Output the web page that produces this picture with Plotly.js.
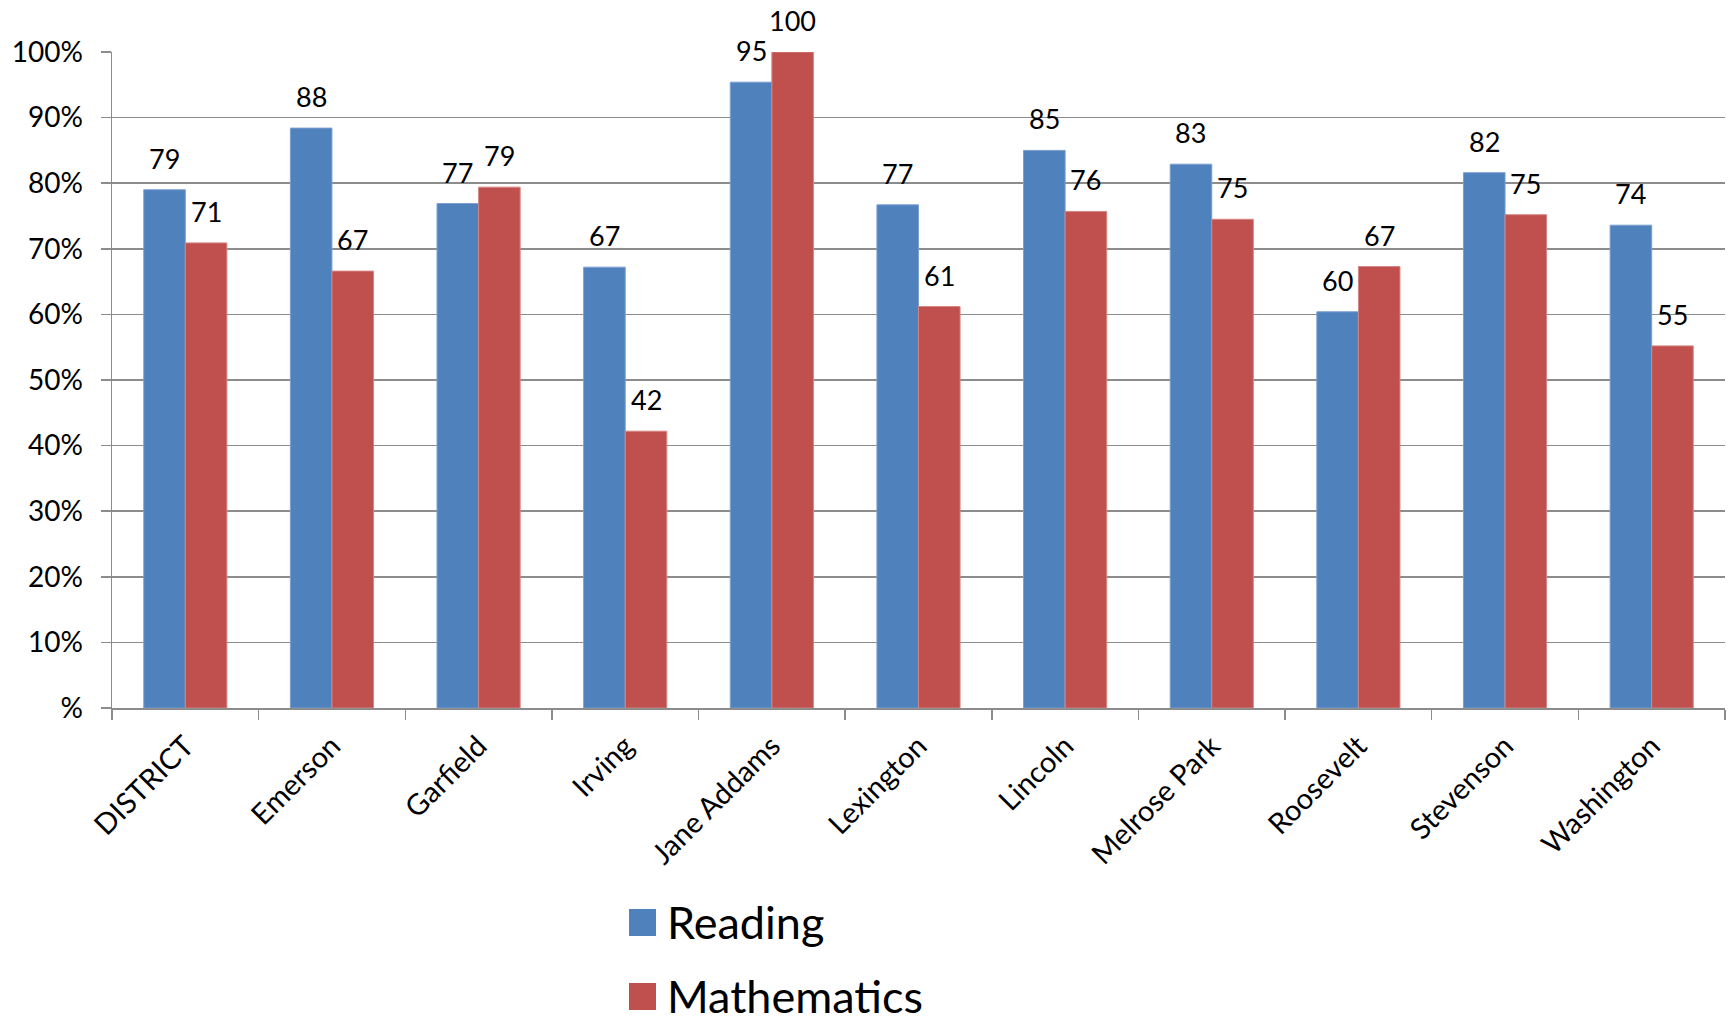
<!DOCTYPE html>
<html>
<head>
<meta charset="utf-8">
<script src="https://cdn.plot.ly/plotly-3.0.1.min.js"></script>
<style>
html, body { margin: 0; padding: 0; background: #fff; }
#chart { width: 1733px; height: 1016px; }
</style>
</head>
<body>
<div id="chart"></div>
<script>
// ---- data ----
const schools = ["DISTRICT", "Emerson", "Garfield", "Irving", "Jane Addams", "Lexington",
                 "Lincoln", "Melrose Park", "Roosevelt", "Stevenson", "Washington"];
const reading = [79.0, 88.4, 76.9, 67.2, 95.4, 76.7, 85.0, 82.9, 60.4, 81.6, 73.6];
const mathematics = [70.9, 66.6, 79.4, 42.2, 100.0, 61.2, 75.7, 74.5, 67.3, 75.2, 55.2];
const readingLabels = ["79", "88", "77", "67", "95", "77", "85", "83", "60", "82", "74"];
const mathLabels = ["71", "67", "79", "42", "100", "61", "76", "75", "67", "75", "55"];
const yTickVals = [0, 10, 20, 30, 40, 50, 60, 70, 80, 90, 100];
const yTickText = ["%", "10%", "20%", "30%", "40%", "50%", "60%", "70%", "80%", "90%", "100%"];
const seriesNames = ["Reading", "Mathematics"];

// ---- style ----
const FONT = "Lato, 'Open Sans', sans-serif";
const BLUE = "#4F81BD";
const RED = "#C0504D";
const GRID = "#8c8c8c";
const BARGAP = 0.433;
const halfBar = (1 - BARGAP) / 4; // offset of each bar centre from category centre

const traces = [
  {
    type: "bar", name: seriesNames[0], x: schools, y: reading,
    marker: { color: BLUE, line: { color: "#7b9fd1", width: 1 } },
    hoverinfo: "x+y"
  },
  {
    type: "bar", name: seriesNames[1], x: schools, y: mathematics,
    marker: { color: RED, line: { color: "#d58684", width: 1 } },
    hoverinfo: "x+y"
  }
];

const annotations = [];
schools.forEach((s, i) => {
  annotations.push({
    x: i - halfBar, y: reading[i], xref: "x", yref: "y",
    text: readingLabels[i], showarrow: false, yanchor: "bottom", xanchor: "center",
    yshift: 13, font: { family: FONT, size: 27, color: "#000" }
  });
  annotations.push({
    x: i + halfBar, y: mathematics[i], xref: "x", yref: "y",
    text: mathLabels[i], showarrow: false, yanchor: "bottom", xanchor: "center",
    yshift: 13, font: { family: FONT, size: 27, color: "#000" }
  });
});

// manual legend (large square swatches)
const L = 112, R = 1733 - 8, T = 52, B = 1016 - 308;
const W = R - L, H = B - T;
const px = v => (v - L) / W;
const py = v => (B - v) / H;
const legendItems = [
  { name: seriesNames[0], color: BLUE, cy: 922.5 },
  { name: seriesNames[1], color: RED, cy: 996.5 }
];
const shapes = [];
legendItems.forEach(it => {
  shapes.push({
    type: "rect", xref: "paper", yref: "paper",
    x0: px(629), x1: px(656), y0: py(it.cy - 13.5), y1: py(it.cy + 13.5),
    fillcolor: it.color, line: { width: 0 }
  });
  annotations.push({
    xref: "paper", yref: "paper", x: px(665), y: py(it.cy - 1),
    xanchor: "left", yanchor: "middle", showarrow: false,
    text: it.name, font: { family: FONT, size: 45, color: "#000" }
  });
});

const layout = {
  width: 1733, height: 1016,
  margin: { l: L, r: 8, t: T, b: 308, pad: 0 },
  paper_bgcolor: "#fff", plot_bgcolor: "#fff",
  showlegend: false,
  barmode: "group", bargap: BARGAP, bargroupgap: 0,
  font: { family: FONT, size: 26, color: "#000" },
  xaxis: {
    type: "category",
    tickson: "boundaries",
    ticks: "outside", ticklen: 10, tickwidth: 1.5, tickcolor: GRID,
    showline: true, linecolor: GRID, linewidth: 1.5,
    showgrid: false, zeroline: false,
    tickangle: -45,
    ticklabelstandoff: 8,
    tickfont: { family: FONT, size: 29, color: "#000" },
    automargin: false
  },
  yaxis: {
    range: [0, 100],
    tickmode: "array", tickvals: yTickVals, ticktext: yTickText,
    ticks: "outside", ticklen: 10, tickwidth: 1.5, tickcolor: GRID,
    showline: true, linecolor: GRID, linewidth: 1.5,
    showgrid: true, gridcolor: GRID, gridwidth: 1.5,
    zeroline: false,
    ticklabelstandoff: 12,
    tickfont: { family: FONT, size: 28, color: "#000" },
    automargin: false
  },
  annotations: annotations,
  shapes: shapes
};

Plotly.newPlot("chart", traces, layout, { displayModeBar: false, staticPlot: true });
</script>
</body>
</html>
